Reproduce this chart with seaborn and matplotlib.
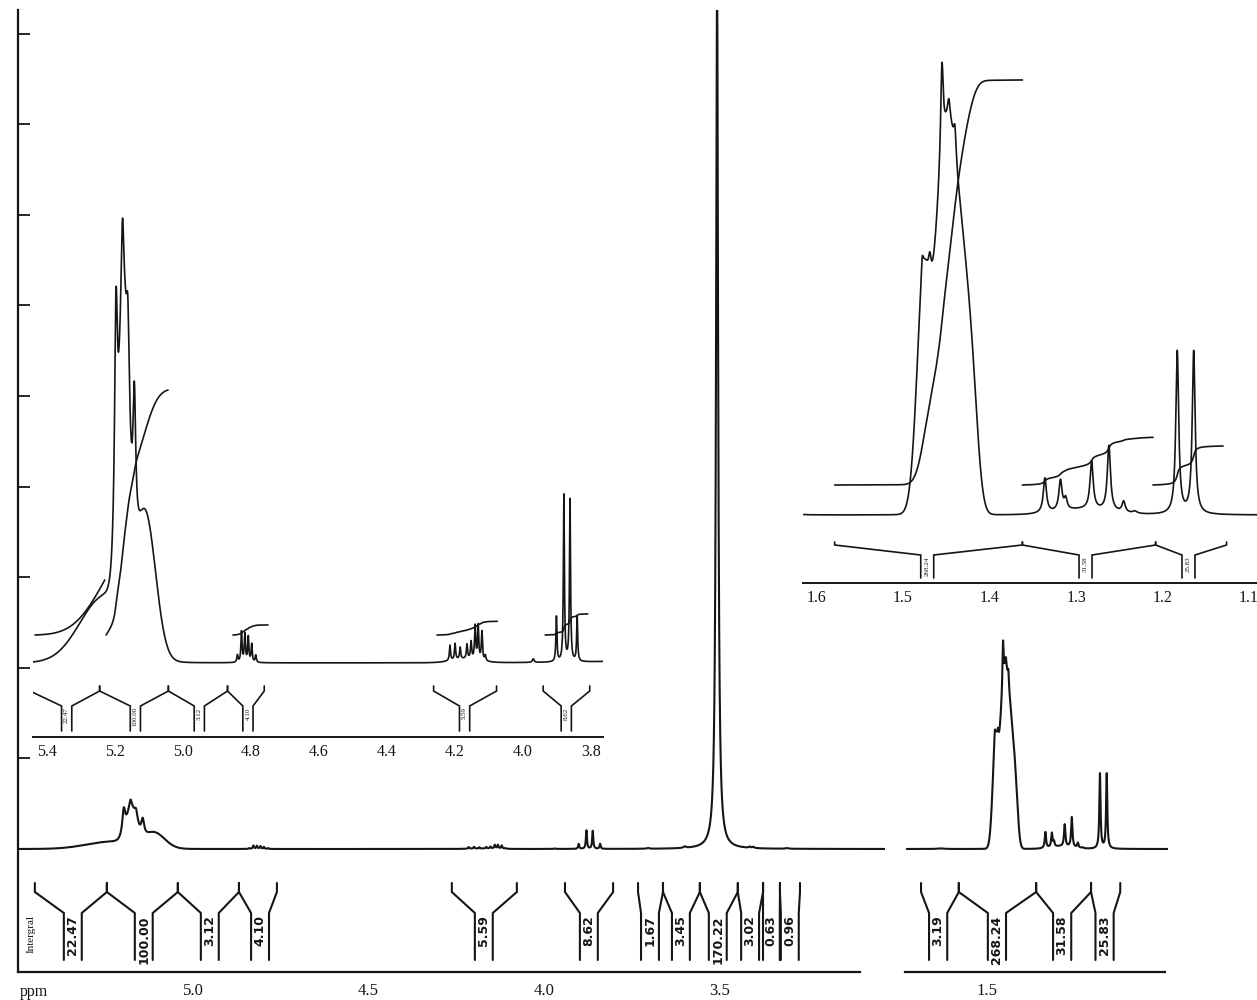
import numpy as np
import matplotlib
matplotlib.use("Agg")
import matplotlib.pyplot as plt
import seaborn as sns
from matplotlib.ticker import MultipleLocator, FixedLocator, NullFormatter

# 1H NMR spectrum
# sharp lines: position (ppm), height (a.u.), half width (ppm)
line_ppm = [5.197, 5.178, 5.162, 5.143,
            4.840, 4.828, 4.818, 4.808, 4.798, 4.786,
            4.215, 4.200, 4.185, 4.165, 4.153, 4.141, 4.132, 4.121, 4.111,
            3.970, 3.902, 3.880, 3.862, 3.841,
            3.705, 3.600, 3.508, 3.415, 3.405, 3.310,
            1.630, 1.478, 1.469, 1.455, 1.447, 1.440,
            1.336, 1.318, 1.312, 1.282, 1.262, 1.245, 1.232,
            1.183, 1.164]
line_height = [24, 11, 10, 16,
               0.8, 3.4, 3.1, 2.8, 2.0, 0.8,
               1.7, 1.8, 1.3, 1.6, 1.9, 3.7, 3.8, 3.2, 0.6,
               0.4, 5.0, 18.5, 18.0, 5.0,
               0.8, 1.5, 870, 1.2, 1.2, 0.7,
               0.6, 12, 9, 43, 9, 14,
               16, 14, 5, 22, 30, 5, 1,
               75, 75]
line_width = [0.005, 0.005, 0.005, 0.005,
              0.002, 0.002, 0.002, 0.002, 0.002, 0.002,
              0.002, 0.002, 0.002, 0.002, 0.002, 0.002, 0.002, 0.002, 0.002,
              0.003, 0.0018, 0.0018, 0.0018, 0.0018,
              0.004, 0.004, 0.0035, 0.003, 0.003, 0.005,
              0.01, 0.0018, 0.0018, 0.0018, 0.0018, 0.0018,
              0.0022, 0.0022, 0.002, 0.0022, 0.0022, 0.0022, 0.003,
              0.002, 0.002]

# broad envelopes: position (ppm), height, sigma (ppm)
band_ppm = [5.235, 5.175, 5.110, 4.170,
            1.476, 1.457, 1.446, 1.434, 1.420, 1.290]
band_height = [7, 30, 15, 0.4,
               105, 120, 85, 115, 45, 2.5]
band_sigma = [0.07, 0.015, 0.03, 0.04,
              0.008, 0.008, 0.007, 0.009, 0.007, 0.03]

# integral regions of the full spectrum
seg1_labels = ['22.47', '100.00', '3.12', '4.10', '5.59', '8.62',
               '1.67', '3.45', '170.22', '3.02', '0.63', '0.96']
seg1_left = [5.450, 5.245, 5.043, 4.869, 4.263, 3.941,
             3.733, 3.662, 3.557, 3.449, 3.377, 3.329]
seg1_right = [5.245, 5.043, 4.869, 4.761, 4.078, 3.804,
              3.662, 3.557, 3.449, 3.377, 3.329, 3.272]
seg1_center = [5.342, 5.140, 4.952, 4.809, 4.172, 3.873,
               3.699, 3.611, 3.506, 3.414, 3.355, 3.301]

seg2_labels = ['3.19', '268.24', '31.58', '25.83']
seg2_left = [1.685, 1.579, 1.362, 1.208]
seg2_right = [1.579, 1.362, 1.208, 1.126]
seg2_center = [1.637, 1.472, 1.289, 1.170]

# integral traces drawn in the expansions
in1_int_left = [5.435, 5.226, 4.853, 4.253, 3.935]
in1_int_right = [5.230, 5.044, 4.750, 4.076, 3.810]
in1_int_value = [22.47, 100.00, 4.10, 5.59, 8.62]

in2_int_left = [1.579, 1.362, 1.211]
in2_int_right = [1.362, 1.211, 1.130]
in2_int_value = [268.24, 31.58, 25.83]

INK = '#151515'


def spectrum(ppm):
    y = np.zeros_like(ppm)
    for c, h, w in zip(line_ppm, line_height, line_width):
        y += h / (1 + ((ppm - c) / w) ** 2)
    for c, h, s in zip(band_ppm, band_height, band_sigma):
        y += h * np.exp(-0.5 * ((ppm - c) / s) ** 2)
    return y


def draw_spectrum(ax, lo, hi, lw):
    x = np.linspace(hi, lo, 12000)
    sns.lineplot(x=x, y=spectrum(x), ax=ax, color=INK, linewidth=lw,
                 sort=False, estimator=None)


def draw_integrals(ax, lefts, rights, values, offset, scale, lw):
    for a, b, v in zip(lefts, rights, values):
        x = np.linspace(a, b, 600)
        cum = np.cumsum(spectrum(x))
        cum = (cum - cum[0]) / (cum[-1] - cum[0])
        ax.plot(x, offset + cum * v * scale, color=INK, lw=lw)


def draw_brackets(ax, lefts, rights, centers, labels, half, ys, fs, lw,
                  weight='normal', family=None):
    y_top, y_join, y_stem, y_bot = ys
    for a, b, c, lab in zip(lefts, rights, centers, labels):
        sl = min(c + half, a)
        sr = max(c - half, b)
        ax.plot([a, a, sl, sl], [y_top, y_join, y_stem, y_bot], color=INK,
                lw=lw, solid_joinstyle='miter')
        ax.plot([sr, sr, b, b], [y_bot, y_stem, y_join, y_top], color=INK,
                lw=lw, solid_joinstyle='miter')
        kw = dict(rotation=90, ha='center', va='top', fontsize=fs,
                  fontweight=weight, color=INK)
        if family:
            kw['family'] = family
        ax.text(c, y_stem - 0.05 * (y_stem - y_bot), lab, **kw)


sns.set_style("white")
plt.rcParams['font.family'] = ['Liberation Serif', 'DejaVu Serif']

W, H = 1257, 1000
fig = plt.figure(figsize=(W / 100, H / 100), dpi=100)


def px_axes(x0, x1, ytop, ybot):
    return fig.add_axes([x0 / W, 1 - ybot / H, (x1 - x0) / W, (ybot - ytop) / H])


# ---- main spectrum, two segments ----
ax1 = px_axes(18, 885, 10, 972)
ax2 = px_axes(905, 1168, 10, 972)
for ax in (ax1, ax2):
    ax.set_facecolor('none')
    ax.set_ylim(-123, 839)
    for s in ('top', 'right'):
        ax.spines[s].set_visible(False)
    ax.spines['bottom'].set_linewidth(1.6)
    ax.spines['bottom'].set_color(INK)
ax1.set_xlim(5.498, 3.030)
ax2.set_xlim(1.730, 0.992)
ax1.spines['bottom'].set_bounds(3.10, 5.498)
ax2.spines['bottom'].set_bounds(1.0, 1.730)
ax1.spines['left'].set_linewidth(1.6)
ax1.spines['left'].set_color(INK)
ax2.spines['left'].set_visible(False)

draw_spectrum(ax1, 3.030, 5.498, 1.5)
draw_spectrum(ax2, 0.992, 1.725, 1.5)

main_ys = (-34, -43, -64, -111)
draw_brackets(ax1, seg1_left, seg1_right, seg1_center, seg1_labels, 0.0255,
              main_ys, 9, 1.5, weight='bold', family='DejaVu Sans')
draw_brackets(ax2, seg2_left, seg2_right, seg2_center, seg2_labels, 0.0255,
              main_ys, 9, 1.5, weight='bold', family='DejaVu Sans')

ax1.xaxis.set_major_locator(FixedLocator([5.0, 4.5, 4.0, 3.5]))
ax1.xaxis.set_minor_locator(FixedLocator(np.round(np.arange(3.1, 5.45, 0.1), 2)))
ax2.xaxis.set_major_locator(FixedLocator([1.5]))
ax2.xaxis.set_minor_locator(FixedLocator(np.round(np.arange(1.0, 1.75, 0.1), 2)))
for ax in (ax1, ax2):
    ax.xaxis.set_major_formatter(plt.FuncFormatter(lambda v, p: f"{v:.1f}"))
    ax.tick_params(axis='x', which='major', direction='out', length=7,
                   width=1.3, labelsize=12, pad=1, colors=INK)
    ax.tick_params(axis='x', which='minor', direction='out', length=5,
                   width=1.3, colors=INK)
ax1.yaxis.set_major_locator(FixedLocator(np.arange(0, 839, 90.6)))
ax1.yaxis.set_major_formatter(NullFormatter())
ax1.tick_params(axis='y', direction='in', length=8.5, width=1.3, left=True,
                colors=INK)
ax2.set_yticks([])
for ax in (ax1, ax2):
    ax.set_xlabel('')
    ax.set_ylabel('')

fig.text(20 / W, 1 - 992 / H, 'ppm', fontsize=11.5, va='center', ha='left',
         color=INK)
fig.text(31 / W, 1 - 934 / H, 'Intergral', fontsize=8, rotation=90,
         va='center', ha='center', color=INK)

# ---- expansion 5.44 - 3.77 ppm ----
k1 = 9.0
in1 = px_axes(33, 603, 150, 737)
in1.set_facecolor('none')
in1.set_xlim(5.441, 3.765)
in1.set_ylim(-74 / k1, (587 - 74) / k1)
draw_spectrum(in1, 3.765, 5.441, 1.2)
draw_integrals(in1, in1_int_left, in1_int_right, in1_int_value,
               28 / k1, 2.45 / k1, 1.2)
in1_ys = (-23 / k1, -28 / k1, -43 / k1, -68 / k1)
draw_brackets(in1, seg1_left[:6], seg1_right[:6], seg1_center[:6],
              seg1_labels[:6], 0.015, in1_ys, 5, 1.2)

# ---- expansion 1.62 - 1.09 ppm ----
k2 = 2.17
in2 = px_axes(803, 1257, 40, 583)
in2.set_facecolor('none')
in2.set_xlim(1.6156, 1.0908)
in2.set_ylim(-68 / k2, (543 - 68) / k2)
draw_spectrum(in2, 1.0908, 1.6156, 1.2)
draw_integrals(in2, in2_int_left, in2_int_right, in2_int_value,
               30 / k2, 1.51 / k2, 1.2)
in2_ys = (-27 / k2, -30 / k2, -40 / k2, -63 / k2)
draw_brackets(in2, seg2_left[1:], seg2_right[1:], seg2_center[1:],
              seg2_labels[1:], 0.0075, in2_ys, 5, 1.2)

for ax, major, minor in ((in1, 0.2, 0.1), (in2, 0.1, 0.1)):
    for s in ('top', 'right', 'left'):
        ax.spines[s].set_visible(False)
    ax.spines['bottom'].set_linewidth(1.4)
    ax.spines['bottom'].set_color(INK)
    ax.xaxis.set_major_locator(MultipleLocator(major))
    ax.xaxis.set_minor_locator(MultipleLocator(minor))
    ax.xaxis.set_major_formatter(plt.FuncFormatter(lambda v, p: f"{v:.1f}"))
    ax.tick_params(axis='x', which='major', direction='out', length=4,
                   width=1.2, labelsize=11.5, pad=1, colors=INK)
    ax.tick_params(axis='x', which='minor', direction='out', length=3,
                   width=1.2, colors=INK)
    ax.set_yticks([])
    ax.set_xlabel('')
    ax.set_ylabel('')

fig.savefig('out.png', dpi=100, facecolor='white')
